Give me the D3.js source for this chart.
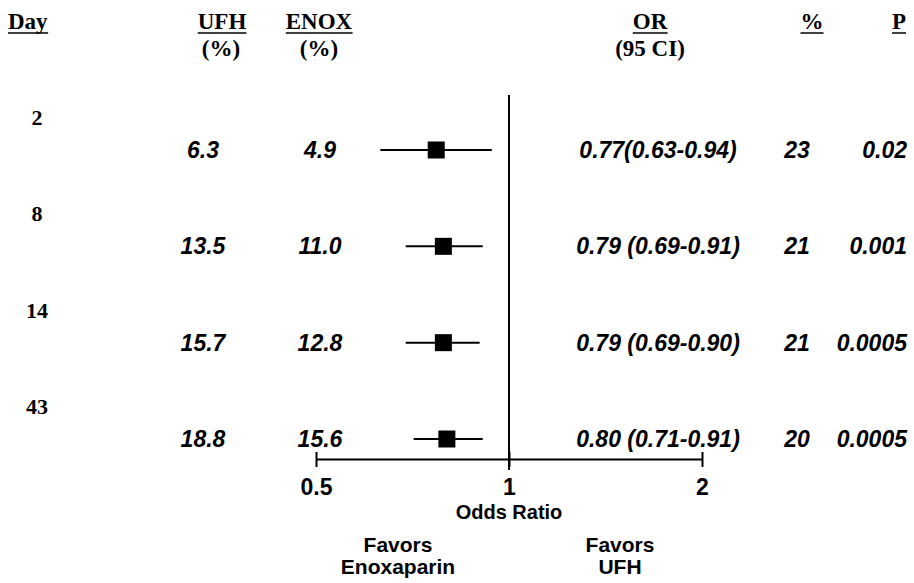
<!DOCTYPE html>
<html>
<head>
<meta charset="utf-8">
<script src="https://cdn.jsdelivr.net/npm/d3@7/dist/d3.min.js"></script>
<style>
  body { margin: 0; background: #fff; }
  svg { display: block; }
</style>
</head>
<body>
<div id="chart"></div>
<script>
"use strict";

// rows of the forest plot
const days = ["2", "8", "14", "43"];
const ufh = ["6.3", "13.5", "15.7", "18.8"];
const enox = ["4.9", "11.0", "12.8", "15.6"];
const orValues = [0.77, 0.79, 0.79, 0.80];
const ciLow = [0.63, 0.69, 0.69, 0.71];
const ciHigh = [0.94, 0.91, 0.90, 0.91];
const orLabels = ["0.77(0.63-0.94)", "0.79 (0.69-0.91)", "0.79 (0.69-0.90)", "0.80 (0.71-0.91)"];
const reduction = ["23", "21", "21", "20"];
const pValues = ["0.02", "0.001", "0.0005", "0.0005"];
const oddsTicks = [0.5, 1, 2];

const width = 914, height = 583;
const serif = "'Liberation Serif', 'Times New Roman', serif";
const sans = "'Liberation Sans', Arial, sans-serif";

const svg = d3.select("#chart")
  .append("svg")
  .attr("width", width)
  .attr("height", height);

const x = d3.scaleLog().base(2).domain([0.5, 2]).range([316, 702]);
const y = d3.scalePoint().domain(days).range([150, 439]);

const rows = days.map((d, i) => ({
  day: d, ufh: ufh[i], enox: enox[i], or: orValues[i],
  lo: ciLow[i], hi: ciHigh[i], label: orLabels[i],
  red: reduction[i], p: pValues[i]
}));

// column headers
function header(txt, cx, anchor, underline) {
  const t = svg.append("text")
    .attr("x", cx)
    .attr("y", 29)
    .attr("text-anchor", anchor)
    .attr("font-family", serif)
    .attr("font-weight", "bold")
    .attr("font-size", "23px")
    .text(txt);
  if (underline) {
    const b = t.node().getBBox();
    svg.append("line")
      .attr("x1", b.x).attr("x2", b.x + b.width)
      .attr("y1", 33).attr("y2", 33)
      .attr("stroke", "#000").attr("stroke-width", 1.5);
  }
}
function subHeader(txt, cx) {
  svg.append("text")
    .attr("x", cx)
    .attr("y", 56)
    .attr("text-anchor", "middle")
    .attr("font-family", serif)
    .attr("font-weight", "bold")
    .attr("font-size", "23px")
    .text(txt);
}

header("Day", 8, "start", true);
header("UFH", 222, "middle", true);
header("ENOX", 319, "middle", true);
header("OR", 650, "middle", true);
header("%", 812, "middle", true);
header("P", 899, "middle", true);
subHeader("(%)", 221);
subHeader("(%)", 319);
subHeader("(95 CI)", 650);

// reference line at OR = 1
svg.append("line")
  .attr("x1", x(1)).attr("x2", x(1))
  .attr("y1", 95).attr("y2", 470)
  .attr("stroke", "#000")
  .attr("stroke-width", 2);

// axis
const axisY = 459;
const axis = svg.append("g")
  .attr("transform", `translate(0, ${axisY})`)
  .call(d3.axisBottom(x).tickValues(oddsTicks).tickFormat(d => d).tickSizeOuter(0));

axis.select(".domain").attr("stroke-width", 2);
axis.selectAll(".tick line")
  .attr("y1", -7).attr("y2", 8)
  .attr("stroke-width", 2);
axis.selectAll(".tick text")
  .attr("y", 36).attr("dy", null)
  .attr("font-family", sans)
  .attr("font-weight", "bold")
  .attr("font-size", "23px")
  .attr("fill", "#000");

svg.append("text")
  .attr("x", x(1))
  .attr("y", 519)
  .attr("text-anchor", "middle")
  .attr("font-family", sans)
  .attr("font-weight", "bold")
  .attr("font-size", "20px")
  .text("Odds Ratio");

const favors = [
  { cx: 398, lines: ["Favors", "Enoxaparin"] },
  { cx: 620, lines: ["Favors", "UFH"] }
];
favors.forEach(f => {
  f.lines.forEach((l, j) => {
    svg.append("text")
      .attr("x", f.cx)
      .attr("y", 552 + j * 22)
      .attr("text-anchor", "middle")
      .attr("font-family", sans)
      .attr("font-weight", "bold")
      .attr("font-size", "21px")
      .text(l);
  });
});

// day labels
svg.selectAll(".day")
  .data(rows)
  .enter()
  .append("text")
  .attr("class", "day")
  .attr("x", 37)
  .attr("y", d => y(d.day) - 25)
  .attr("text-anchor", "middle")
  .attr("font-family", serif)
  .attr("font-weight", "bold")
  .attr("font-size", "22px")
  .text(d => d.day);

// row value columns
const cols = [
  { key: "ufh", x: 203, anchor: "middle" },
  { key: "enox", x: 320, anchor: "middle" },
  { key: "label", x: 658, anchor: "middle" },
  { key: "red", x: 797, anchor: "middle" },
  { key: "p", x: 907, anchor: "end" }
];
cols.forEach(c => {
  svg.selectAll(".col-" + c.key)
    .data(rows)
    .enter()
    .append("text")
    .attr("class", "col-" + c.key)
    .attr("x", c.x)
    .attr("y", d => y(d.day) + 8)
    .attr("text-anchor", c.anchor)
    .attr("font-family", sans)
    .attr("font-weight", "bold")
    .attr("font-style", "italic")
    .attr("font-size", "23px")
    .text(d => d[c.key]);
});

// confidence intervals and point estimates
svg.selectAll(".ci")
  .data(rows)
  .enter()
  .append("line")
  .attr("class", "ci")
  .attr("x1", d => x(d.lo))
  .attr("x2", d => x(d.hi))
  .attr("y1", d => y(d.day))
  .attr("y2", d => y(d.day))
  .attr("stroke", "#000")
  .attr("stroke-width", 2);

const sq = 17;
svg.selectAll(".est")
  .data(rows)
  .enter()
  .append("rect")
  .attr("class", "est")
  .attr("x", d => x(d.or) - sq / 2)
  .attr("y", d => y(d.day) - sq / 2)
  .attr("width", sq)
  .attr("height", sq)
  .attr("fill", "#000");
</script>
</body>
</html>
